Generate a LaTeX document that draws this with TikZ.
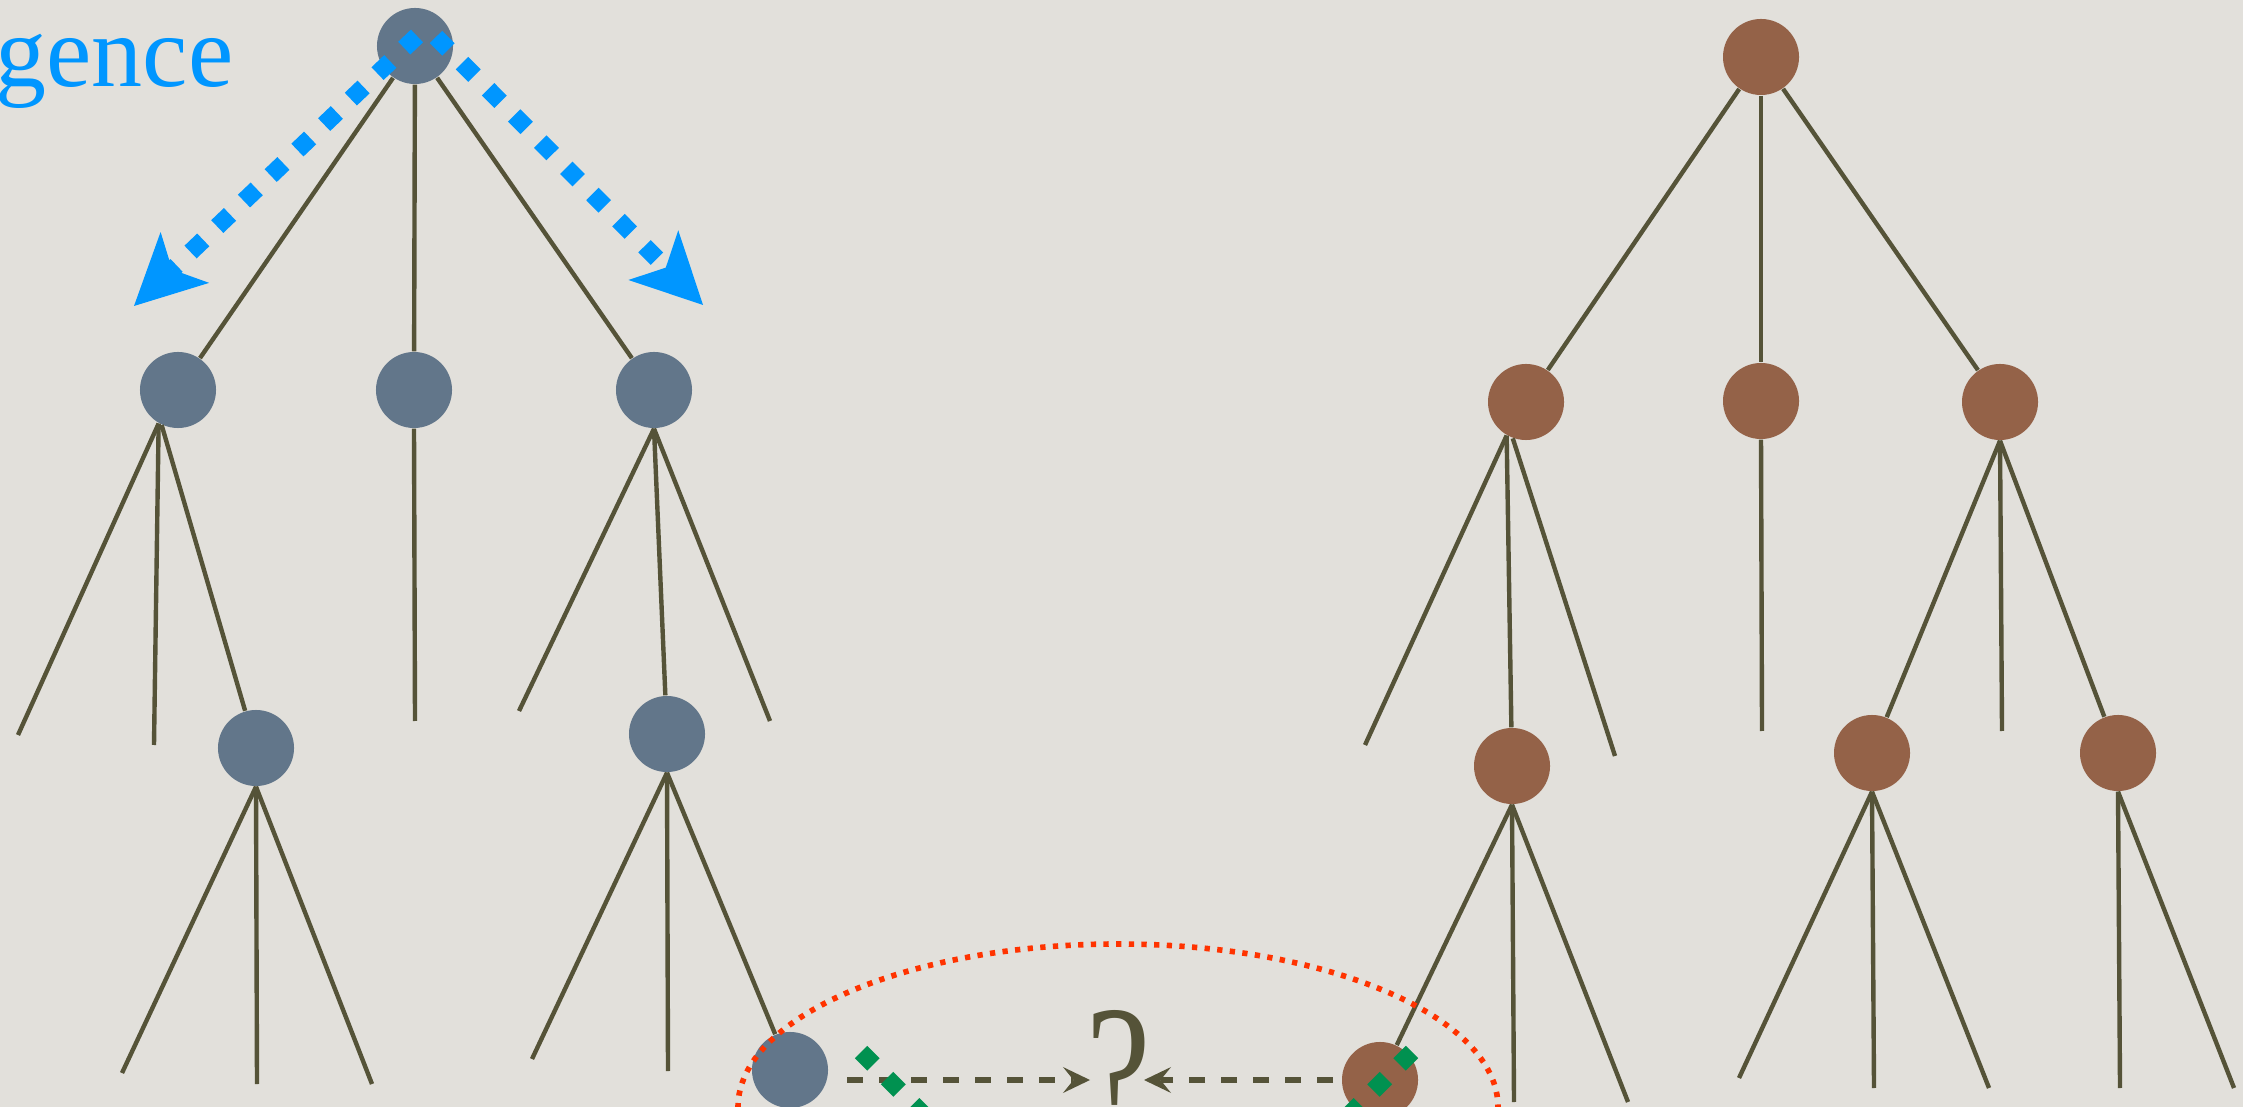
\documentclass[tikz,border=0pt]{standalone}
\usepackage{fontspec}
\setmainfont{Liberation Serif}
\usetikzlibrary{arrows.meta}

\definecolor{paper}{RGB}{226,224,219}
\definecolor{twig}{RGB}{85,83,56}
\definecolor{slate}{RGB}{98,118,138}
\definecolor{bark}{RGB}{148,98,72}
\definecolor{sky}{RGB}{0,150,255}
\definecolor{leafgreen}{RGB}{0,145,80}
\definecolor{signal}{RGB}{255,51,0}

\begin{document}
\begin{tikzpicture}[x=0.01cm, y=-0.01cm,
  bnode/.style={circle, fill=slate, minimum size=0.76cm, inner sep=0pt},
  rnode/.style={circle, fill=bark, minimum size=0.76cm, inner sep=0pt},
  branch/.style={twig, line width=1.25pt},
  walk/.style={sky, line width=5pt, dash pattern=on 5pt off 5.5pt,
    -{Stealth[length=20pt, width=20pt, inset=5pt, line width=0pt]}},
  match/.style={leafgreen, line width=5pt, dash pattern=on 5pt off 5.5pt},
  guess/.style={twig, line width=1.8pt, dash pattern=on 4.5pt off 4.6pt,
    -{Stealth[length=7.7pt, width=7.4pt, inset=3pt, line width=0pt]}},
  ring/.style={signal, line width=1.6pt, dash pattern=on 1.5pt off 2.1pt}]

% --- Canvas ---
\useasboundingbox (0,0) rectangle (2243,1107);
\fill[paper] (0,0) rectangle (2243,1107);
\clip (0,0) rectangle (2243,1107);

\node[anchor=base east, text=sky, font=\fontsize{29}{29}\selectfont, inner sep=0pt] (title) at (234,87) {gence};

% --- Left tree ---
\node[bnode] (bR) at (415,46) {};
\node[bnode] (b1) at (178,390) {};
\node[bnode] (b2) at (414,390) {};
\node[bnode] (b3) at (654,390) {};
\node[bnode] (b13) at (256,748) {};
\node[bnode] (b32) at (667,734) {};
\node[bnode] (b323) at (790,1070) {};

\coordinate (b11) at (18,735);
\coordinate (b12) at (154,745);
\coordinate (b131) at (122,1073);
\coordinate (b132) at (257,1084);
\coordinate (b133) at (372,1084);
\coordinate (b21) at (415,721);
\coordinate (b31) at (519,711);
\coordinate (b33) at (770,721);
\coordinate (b321) at (532,1059);
\coordinate (b322) at (668,1071);

\draw[branch] (bR) -- (b1);
\draw[branch] (bR) -- (b2);
\draw[branch] (bR) -- (b3);
\draw[branch] (b1.240) -- (b11);
\draw[branch] (b1.240) -- (b12);
\draw[branch] (b1.245) -- (b13);
\draw[branch] (b2.south) -- (b21);
\draw[branch] (b3.south) -- (b31);
\draw[branch] (b3.south) -- (b32);
\draw[branch] (b3.south) -- (b33);
\draw[branch] (b13.south) -- (b131);
\draw[branch] (b13.south) -- (b132);
\draw[branch] (b13.south) -- (b133);
\draw[branch] (b32.south) -- (b321);
\draw[branch] (b32.south) -- (b322);
\draw[branch] (b32.south) -- (b323);

% --- Right tree ---
\node[rnode] (nR) at (1761,57) {};
\node[rnode] (n1) at (1526,402) {};
\node[rnode] (n2) at (1761,401) {};
\node[rnode] (n3) at (2000,402) {};
\node[rnode] (n12) at (1512,766) {};
\node[rnode] (n31) at (1872,753) {};
\node[rnode] (n33) at (2118,753) {};
\node[rnode] (n121) at (1380,1080) {};

\coordinate (n11) at (1365,745);
\coordinate (n13) at (1615,756);
\coordinate (n122) at (1514,1102);
\coordinate (n123) at (1628,1102);
\coordinate (n21) at (1762,731);
\coordinate (n32) at (2002,731);
\coordinate (n311) at (1739,1078);
\coordinate (n312) at (1874,1088);
\coordinate (n313) at (1989,1088);
\coordinate (n331) at (2120,1088);
\coordinate (n332) at (2234,1088);

\draw[branch] (nR) -- (n1);
\draw[branch] (nR) -- (n2);
\draw[branch] (nR) -- (n3);
\draw[branch] (n1.240) -- (n11);
\draw[branch] (n1.240) -- (n12);
\draw[branch] (n1.250) -- (n13);
\draw[branch] (n2.south) -- (n21);
\draw[branch] (n3.south) -- (n31);
\draw[branch] (n3.south) -- (n32);
\draw[branch] (n3.south) -- (n33);
\draw[branch] (n12.south) -- (n121);
\draw[branch] (n12.south) -- (n122);
\draw[branch] (n12.south) -- (n123);
\draw[branch] (n31.south) -- (n311);
\draw[branch] (n31.south) -- (n312);
\draw[branch] (n31.south) -- (n313);
\draw[branch] (n33.south) -- (n331);
\draw[branch] (n33.south) -- (n332);

% --- Search from the root ---
\coordinate (wL0) at (417,36);
\coordinate (wL1) at (134,306);
\coordinate (wR0) at (436,37);
\coordinate (wR1) at (703,305);
\draw[walk] (wL0) -- (wL1);
\draw[walk] (wR0) -- (wR1);

% --- Compared leaves ---
\draw[ring] (1118,1107) ellipse [x radius=380, y radius=163];

\node[anchor=base, text=twig, font=\fontsize{55}{55}\selectfont, inner sep=0pt, xscale=0.75] (qmark) at (1119,1138) {?};
\coordinate (aL) at (847,1080);
\coordinate (qL) at (1090,1080);
\coordinate (aR) at (1333,1080);
\coordinate (qR) at (1144,1080);
\draw[guess] (aL) -- (qL);
\draw[guess] (aR) -- (qR);

\coordinate (gL0) at (861,1052);
\coordinate (gL1) at (1001,1192);
\coordinate (gR0) at (1412,1052);
\coordinate (gR1) at (1272,1192);
\draw[match] (gL0) -- (gL1);
\draw[match] (gR0) -- (gR1);

\end{tikzpicture}
\end{document}
